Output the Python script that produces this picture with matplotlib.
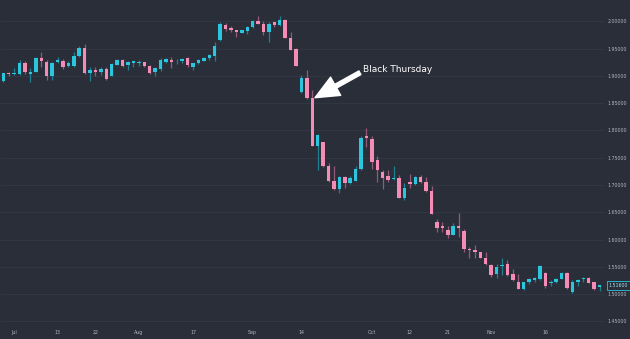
import numpy as np
import matplotlib
matplotlib.use("Agg")
import matplotlib.pyplot as plt
import matplotlib.transforms as mtransforms

# daily OHLC, weekdays from 29 Jun to 30 Nov
opens = [1.891, 1.905, 1.903, 1.903, 1.924, 1.903, 1.908, 1.932, 1.926, 1.900,
         1.925, 1.928, 1.918, 1.919, 1.936, 1.952, 1.906, 1.911, 1.907, 1.913,
         1.900, 1.920, 1.930, 1.920, 1.924, 1.924, 1.925, 1.919, 1.907, 1.913,
         1.926, 1.929, 1.927, 1.928, 1.932, 1.917, 1.923, 1.928, 1.932, 1.937,
         1.966, 1.993, 1.987, 1.984, 1.979, 1.983, 1.989, 2.001, 1.996, 1.980,
         1.998, 1.993, 2.002, 1.970, 1.949, 1.871, 1.897, 1.859, 1.772, 1.778,
         1.734, 1.707, 1.692, 1.715, 1.703, 1.708, 1.729, 1.789, 1.784, 1.745,
         1.723, 1.717, 1.711, 1.712, 1.676, 1.706, 1.702, 1.715, 1.706, 1.689,
         1.632, 1.625, 1.618, 1.609, 1.625, 1.616, 1.583, 1.581, 1.577, 1.567,
         1.554, 1.536, 1.552, 1.555, 1.536, 1.522, 1.509, 1.522, 1.525, 1.527,
         1.539, 1.521, 1.523, 1.527, 1.539, 1.503, 1.523, 1.527, 1.529, 1.522,
         1.513]
highs = [1.906, 1.908, 1.914, 1.929, 1.928, 1.914, 1.934, 1.943, 1.930, 1.926,
         1.934, 1.931, 1.928, 1.943, 1.954, 1.958, 1.916, 1.916, 1.916, 1.917,
         1.924, 1.931, 1.931, 1.927, 1.928, 1.929, 1.926, 1.920, 1.917, 1.933,
         1.932, 1.935, 1.931, 1.933, 1.934, 1.924, 1.931, 1.934, 1.941, 1.962,
         1.998, 1.997, 1.991, 1.984, 1.985, 1.992, 2.003, 2.010, 2.001, 1.999,
         1.999, 2.010, 2.004, 1.981, 1.952, 1.902, 1.911, 1.875, 1.793, 1.779,
         1.740, 1.734, 1.716, 1.716, 1.716, 1.735, 1.790, 1.805, 1.789, 1.753,
         1.727, 1.727, 1.734, 1.718, 1.704, 1.720, 1.716, 1.718, 1.714, 1.698,
         1.638, 1.633, 1.624, 1.630, 1.649, 1.619, 1.587, 1.590, 1.578, 1.577,
         1.555, 1.556, 1.567, 1.562, 1.546, 1.537, 1.523, 1.529, 1.531, 1.553,
         1.541, 1.526, 1.529, 1.541, 1.540, 1.525, 1.527, 1.531, 1.531, 1.522,
         1.517]
lows = [1.889, 1.899, 1.902, 1.902, 1.903, 1.888, 1.907, 1.917, 1.892, 1.892,
        1.923, 1.912, 1.917, 1.917, 1.935, 1.903, 1.891, 1.899, 1.902, 1.892,
        1.900, 1.920, 1.916, 1.911, 1.917, 1.918, 1.916, 1.903, 1.900, 1.909,
        1.923, 1.914, 1.922, 1.924, 1.917, 1.911, 1.921, 1.927, 1.929, 1.927,
        1.964, 1.983, 1.981, 1.972, 1.978, 1.977, 1.987, 1.995, 1.975, 1.962,
        1.990, 1.991, 1.969, 1.947, 1.918, 1.869, 1.857, 1.771, 1.728, 1.733,
        1.705, 1.691, 1.685, 1.694, 1.702, 1.707, 1.728, 1.770, 1.729, 1.706,
        1.693, 1.706, 1.709, 1.676, 1.673, 1.694, 1.700, 1.703, 1.688, 1.646,
        1.614, 1.614, 1.603, 1.608, 1.605, 1.578, 1.566, 1.567, 1.566, 1.553,
        1.532, 1.529, 1.535, 1.534, 1.524, 1.509, 1.508, 1.518, 1.523, 1.526,
        1.511, 1.515, 1.521, 1.527, 1.509, 1.502, 1.514, 1.523, 1.520, 1.508,
        1.506]
closes = [1.905, 1.903, 1.906, 1.923, 1.908, 1.908, 1.933, 1.927, 1.900, 1.923,
          1.929, 1.917, 1.923, 1.937, 1.951, 1.906, 1.911, 1.907, 1.913, 1.894,
          1.921, 1.930, 1.919, 1.926, 1.927, 1.925, 1.919, 1.905, 1.914, 1.929,
          1.931, 1.926, 1.928, 1.931, 1.920, 1.923, 1.929, 1.932, 1.938, 1.955,
          1.995, 1.986, 1.984, 1.980, 1.984, 1.990, 2.001, 1.996, 1.981, 1.996,
          1.993, 2.002, 1.970, 1.948, 1.919, 1.897, 1.859, 1.772, 1.792, 1.734,
          1.707, 1.692, 1.715, 1.703, 1.713, 1.729, 1.787, 1.786, 1.742, 1.728,
          1.712, 1.710, 1.713, 1.677, 1.694, 1.702, 1.715, 1.706, 1.689, 1.647,
          1.622, 1.622, 1.609, 1.625, 1.622, 1.583, 1.581, 1.577, 1.567, 1.556,
          1.535, 1.550, 1.553, 1.535, 1.526, 1.509, 1.522, 1.527, 1.529, 1.552,
          1.514, 1.522, 1.528, 1.539, 1.511, 1.522, 1.526, 1.529, 1.520, 1.509,
          1.516]

tick_pos = [2, 10, 17, 25, 35, 46, 55, 68, 75, 82, 90, 100]
tick_labels = ['Jul', '13', '22', 'Aug', '17', 'Sep', '14', 'Oct', '12', '21', 'Nov', '16']
price_ticks = [1.45, 1.50, 1.55, 1.60, 1.65, 1.70, 1.75, 1.80, 1.85, 1.90, 1.95, 2.00]

bg = '#2a2e39'
up_col = '#2bc5de'
down_col = '#f48cb6'
up_wick = '#1f7f92'
down_wick = '#94597a'

fig = plt.figure(figsize=(6.3, 3.39), dpi=100, facecolor=bg)
ax = fig.add_axes([0, 12 / 339, 605 / 630, 327 / 339], facecolor=bg)

o = np.array(opens)
h = np.array(highs)
l = np.array(lows)
c = np.array(closes)
x = np.arange(len(o))
up = c >= o

# wicks then bodies
ax.vlines(x[up], l[up], h[up], color=up_wick, linewidth=0.9, zorder=2)
ax.vlines(x[~up], l[~up], h[~up], color=down_wick, linewidth=0.9, zorder=2)
body_h = np.maximum(np.abs(c - o), 0.0012)
ax.bar(x, body_h, bottom=np.minimum(o, c), width=0.64,
       color=np.where(up, up_col, down_col), linewidth=0, zorder=3)

ax.set_xlim(-0.61, 111.0)
ax.set_ylim(1.4397, 2.0391)

ax.set_yticks(price_ticks)
ax.set_yticklabels(['%.5f' % p for p in price_ticks])
ax.yaxis.tick_right()
ax.set_xticks(tick_pos)
ax.set_xticklabels(tick_labels)
ax.tick_params(axis='both', length=0, labelsize=3.4, colors='#b2b5be')
ax.tick_params(axis='y', pad=2)
ax.tick_params(axis='x', pad=2.5)
ax.grid(axis='y', color='#343845', linewidth=0.6, zorder=0)
for s in ax.spines.values():
    s.set_visible(False)

# last price tag
trans = mtransforms.blended_transform_factory(ax.transAxes, ax.transData)
ax.text(1.006, closes[-1], '%.5f' % closes[-1], transform=trans, fontsize=3.4,
        color='#9fe3ef', va='center', ha='left', clip_on=False,
        bbox=dict(boxstyle='square,pad=0.35', fc=bg, ec=up_col, lw=0.6))

ax.annotate('Black Thursday', xy=(57.5, 1.860), xytext=(66.3, 1.912),
            fontsize=6.5, color='white', ha='left', va='center',
            arrowprops=dict(arrowstyle='simple,head_length=1.7,head_width=1.5,tail_width=0.3',
                            fc='white', ec='white', mutation_scale=10,
                            shrinkA=0, shrinkB=0, relpos=(-0.01, 0.25)))

fig.savefig('out.png', dpi=100, facecolor=bg)
